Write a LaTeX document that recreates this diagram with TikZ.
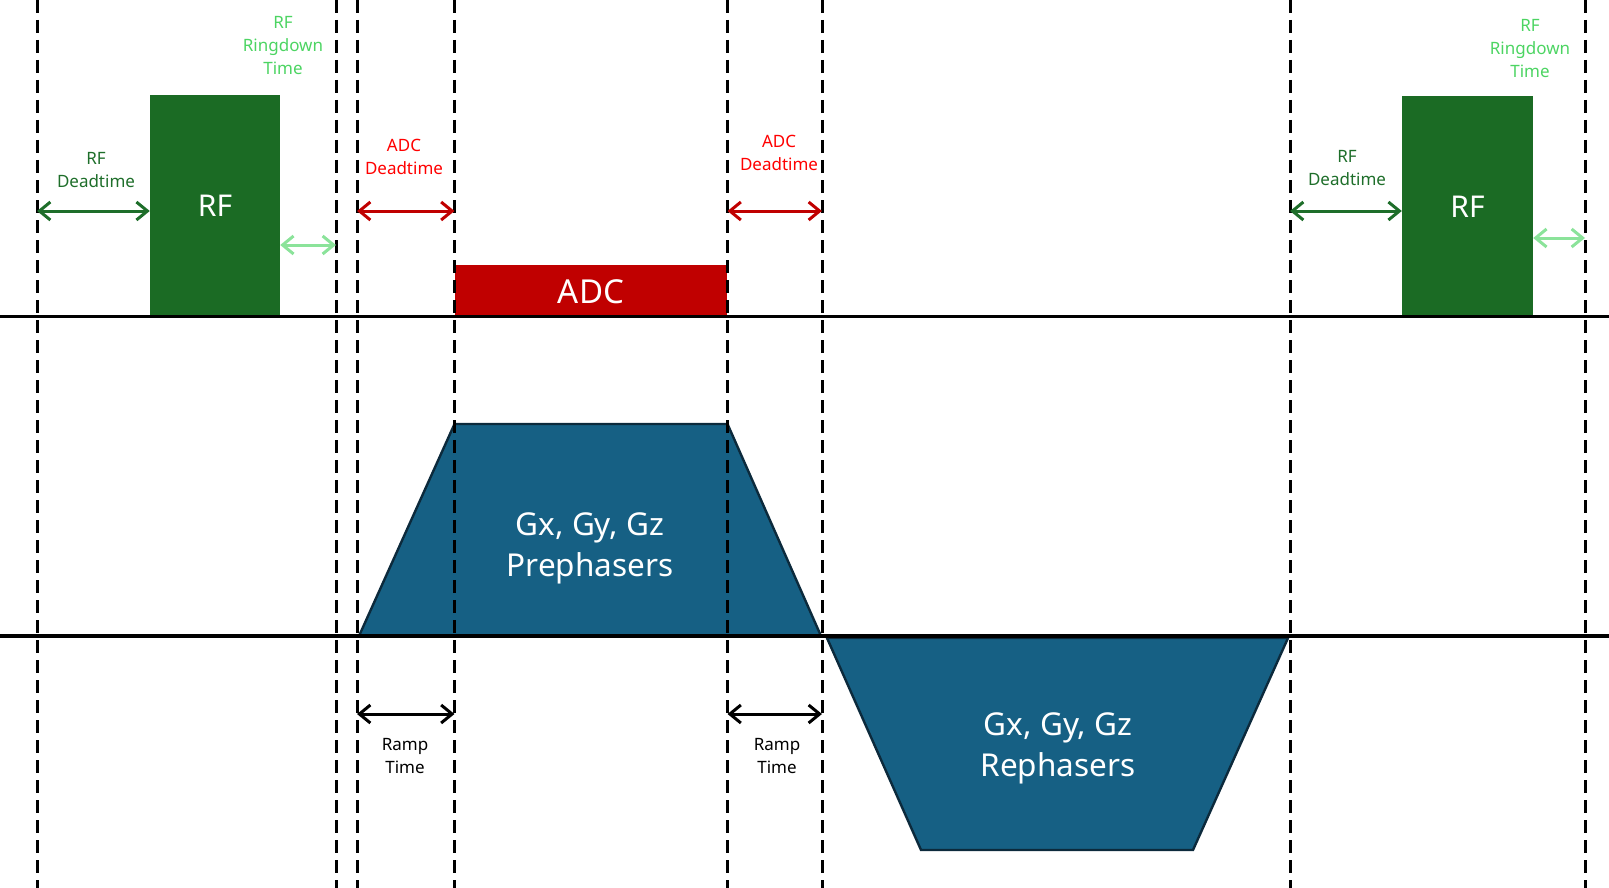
\documentclass[tikz,border=0pt]{standalone}
\usepackage{fontspec}
\setmainfont{Noto Sans}
\usetikzlibrary{arrows.meta}

\definecolor{rfgreen}{HTML}{1B6B24}
\definecolor{rftext}{HTML}{1E6E2A}
\definecolor{ringtext}{HTML}{4CD462}
\definecolor{ringarrow}{HTML}{8BE39A}
\definecolor{adcred}{HTML}{C00000}
\definecolor{adctext}{HTML}{FF0000}
\definecolor{gradblue}{HTML}{166084}
\definecolor{gradedge}{HTML}{0C2A3C}

\tikzset{
  gridline/.style={black, line width=3pt, dash pattern=on 13pt off 7pt},
  axisline/.style={black, line width=3.3pt},
  rfbox/.style={fill=rfgreen, text=white, font=\fontsize{30}{36}\selectfont, inner sep=0pt},
  adcbox/.style={fill=adcred, text=white, font=\fontsize{33}{36}\selectfont, inner sep=0pt},
  gradshape/.style={fill=gradblue, draw=gradedge, line width=2.4pt, line join=miter},
  gradtext/.style={text=white, align=center, font=\fontsize{31.5}{41}\selectfont},
  timelabel/.style={align=center, font=\fontsize{17}{23}\selectfont, inner sep=0pt},
  span/.style={line width=3pt, {Straight Barb[length=11pt,width=18pt]}-{Straight Barb[length=11pt,width=18pt]}},
}

\begin{document}
\begin{tikzpicture}[x=1pt,y=-1pt]
\useasboundingbox (0,0) rectangle (1609,888);

% RF and ADC blocks
\node[rfbox, minimum width=130pt, minimum height=221pt] (rf1) at (215,205.5) {RF};
\node[rfbox, minimum width=131pt, minimum height=222pt] (rf2) at (1467.5,207) {RF};
\node[adcbox, minimum width=272pt, minimum height=53pt] (adc) at (591,291.5) {ADC};

% gradient lobes
\draw[gradshape] (359,636) coordinate (pre1) -- (454.5,424) coordinate (pre2)
  -- (727.5,424) coordinate (pre3) -- (821,636) coordinate (pre4) -- cycle;
\node[gradtext] (pre) at (590,548) {Gx, Gy, Gz\\Prephasers};
\draw[gradshape] (827,638) coordinate (reph1) -- (1288,638) coordinate (reph2)
  -- (1193,850) coordinate (reph3) -- (921,850) coordinate (reph4) -- cycle;
\node[gradtext] (reph) at (1058,748) {Gx, Gy, Gz\\Rephasers};

% axes
\draw[axisline] (0,316.5) coordinate (ax1) -- (1609,316.5) coordinate (ax2);
\draw[axisline] (0,636) coordinate (ax3) -- (1609,636) coordinate (ax4);

% time marks
\foreach \x [count=\i] in {37,336,357,454.5,727.5,822,1290,1585}{
  \coordinate (t\i) at (\x,0);
  \draw[gridline] (t\i) -- ++(0,888);
}

\coordinate (yrf) at (0,211);
\coordinate (yring1) at (0,245);
\coordinate (yring2) at (0,238);
\coordinate (yramp) at (0,714);

% spans
\draw[span, rftext] (t1 |- yrf) -- (rf1.west |- yrf);
\draw[span, ringarrow] (rf1.east |- yring1) -- (t2 |- yring1);
\draw[span, adcred] (t3 |- yrf) -- (t4 |- yrf);
\draw[span, adcred] (t5 |- yrf) -- (t6 |- yrf);
\draw[span, rftext] (t7 |- yrf) -- (rf2.west |- yrf);
\draw[span, ringarrow] (rf2.east |- yring2) -- (t8 |- yring2);
\draw[span, black] (t3 |- yramp) -- (t4 |- yramp);
\draw[span, black] (t5 |- yramp) -- (t6 |- yramp);

% labels
\node[timelabel, text=rftext] (rfdead1) at (96,170) {RF\\Deadtime};
\node[timelabel, text=ringtext] (ring1) at (283,46) {RF\\Ringdown\\Time};
\node[timelabel, text=adctext] (adcdead1) at (404,157) {ADC\\Deadtime};
\node[timelabel, text=adctext] (adcdead2) at (779,153) {ADC\\Deadtime};
\node[timelabel, text=rftext] (rfdead2) at (1347,168) {RF\\Deadtime};
\node[timelabel, text=ringtext] (ring2) at (1530,49) {RF\\Ringdown\\Time};
\node[timelabel] (ramp1) at (405,756) {Ramp\\Time};
\node[timelabel] (ramp2) at (777,756) {Ramp\\Time};
\end{tikzpicture}
\end{document}
